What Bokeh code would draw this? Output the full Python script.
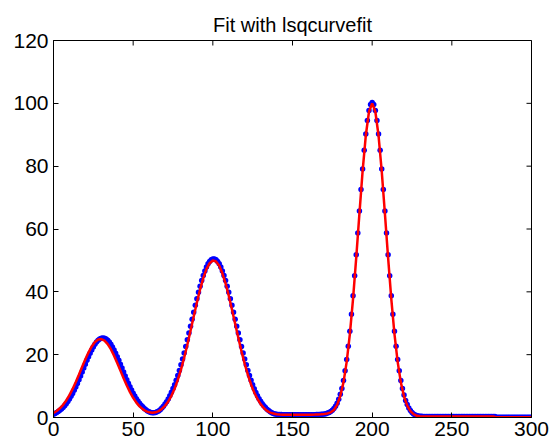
import math
from bokeh.plotting import figure
from bokeh.models import Range1d, FixedTicker
from bokeh.embed import file_html
from bokeh.resources import INLINE

# ---- data ----
x_ticks = [0, 50, 100, 150, 200, 250, 300]
y_ticks = [0, 20, 40, 60, 80, 100, 120]

x_data = list(range(0, 301))
y_data = [
    1.06, 1.29, 1.57, 1.90, 2.27, 2.71, 3.21, 3.77, 4.40, 5.11,
    5.89, 6.75, 7.67, 8.67, 9.74, 10.86, 12.03, 13.24, 14.48, 15.72,
    16.96, 18.19, 19.36, 20.48, 21.52, 22.46, 23.29, 24.00, 24.56, 24.97,
    25.22, 25.30, 25.22, 24.97, 24.56, 24.00, 23.29, 22.46, 21.52, 20.48,
    19.36, 18.19, 16.96, 15.72, 14.48, 13.24, 12.03, 10.89, 9.78, 8.72,
    7.73, 6.83, 5.99, 5.25, 4.57, 3.90, 3.40, 2.90, 2.50, 2.10,
    1.80, 1.60, 1.50, 1.50, 1.60, 1.80, 2.10, 2.50, 3.00, 3.60,
    4.30, 5.00, 5.90, 6.90, 8.00, 9.20, 10.44, 11.85, 13.37, 15.00,
    16.76, 18.61, 20.56, 22.60, 24.71, 26.88, 29.08, 31.29, 33.51, 35.69,
    37.81, 39.84, 41.77, 43.57, 45.20, 46.65, 47.88, 48.90, 49.68, 50.20,
    50.47, 50.47, 50.20, 49.68, 48.90, 47.88, 46.65, 45.20, 43.57, 41.77,
    39.84, 37.81, 35.69, 33.51, 31.29, 29.08, 26.88, 24.71, 22.60, 20.56,
    18.61, 16.76, 15.00, 13.37, 11.85, 10.44, 9.16, 7.99, 6.93, 5.98,
    5.14, 4.39, 3.73, 3.16, 2.66, 2.22, 1.85, 1.53, 1.30, 1.15,
    1.05, 0.98, 0.95, 0.92, 0.90, 0.90, 0.88, 0.90, 0.89, 0.90,
    0.90, 0.88, 0.90, 0.91, 0.90, 0.89, 0.90, 0.90, 0.88, 0.90,
    0.90, 0.91, 0.90, 0.89, 0.90, 0.92, 0.95, 0.98, 1.02, 1.06,
    1.12, 1.22, 1.40, 1.62, 1.92, 2.32, 2.85, 3.55, 4.50, 5.80,
    7.40, 9.24, 11.80, 14.87, 18.50, 22.70, 27.48, 32.85, 38.74, 45.11,
    51.81, 58.75, 65.72, 72.57, 79.08, 85.03, 90.24, 94.51, 97.68, 99.64,
    100.30, 99.64, 97.68, 94.51, 90.24, 85.03, 79.08, 72.57, 65.72, 58.75,
    51.81, 45.11, 38.74, 32.85, 27.48, 22.70, 18.50, 14.87, 11.80, 9.24,
    7.14, 5.45, 4.10, 3.05, 2.23, 1.62, 1.15, 0.81, 0.60, 0.46,
    0.40, 0.37, 0.35, 0.35, 0.35, 0.35, 0.35, 0.35, 0.35, 0.35,
    0.35, 0.35, 0.35, 0.35, 0.35, 0.35, 0.35, 0.35, 0.35, 0.35,
    0.35, 0.35, 0.35, 0.35, 0.35, 0.35, 0.35, 0.35, 0.35, 0.35,
    0.35, 0.35, 0.35, 0.35, 0.35, 0.35, 0.35, 0.35, 0.35, 0.35,
    0.35, 0.35, 0.35, 0.35, 0.35, 0.35, 0.35, 0.35, 0.05, 0.05,
    0.05, 0.05, 0.05, 0.05, 0.05, 0.05, 0.05, 0.05, 0.05, 0.05,
    0.05, 0.05, 0.05, 0.05, 0.05, 0.05, 0.05, 0.05, 0.05, 0.05,
    0.05,
]

x_fit = list(range(0, 301, 2))
y_fit = [
    1.41, 2.06, 2.92, 4.03, 5.43, 7.12, 9.09, 11.30, 13.69, 16.15,
    18.55, 20.76, 22.62, 24.01, 24.81, 24.98, 24.49, 23.38, 21.74, 19.69,
    17.37, 14.92, 12.48, 10.17, 8.09, 6.28, 4.75, 3.55, 2.65, 2.01,
    1.65, 1.52, 1.65, 2.04, 2.72, 3.72, 5.09, 6.90, 9.16, 11.96,
    15.24, 19.01, 23.16, 27.60, 32.15, 36.61, 40.76, 44.37, 47.22, 49.12,
    49.96, 49.68, 48.30, 45.90, 42.65, 38.74, 34.40, 29.87, 25.36, 21.04,
    17.07, 13.54, 10.50, 7.96, 5.90, 4.27, 3.03, 2.10, 1.55, 1.25,
    1.05, 0.95, 0.90, 0.90, 0.90, 0.90, 0.90, 0.90, 0.90, 0.90,
    0.90, 0.90, 0.92, 0.98, 1.05, 1.15, 1.30, 1.65, 2.40, 4.00,
    6.90, 11.18, 17.71, 26.57, 37.77, 50.86, 64.88, 78.40, 89.75, 97.33,
    100.00, 97.33, 89.75, 78.40, 64.88, 50.86, 37.77, 26.57, 17.71, 11.18,
    6.69, 3.79, 2.04, 1.04, 0.55, 0.40, 0.35, 0.35, 0.35, 0.35,
    0.35, 0.35, 0.35, 0.35, 0.35, 0.35, 0.35, 0.35, 0.35, 0.35,
    0.35, 0.35, 0.35, 0.35, 0.35, 0.35, 0.35, 0.35, 0.35, 0.05,
    0.05, 0.05, 0.05, 0.05, 0.05, 0.05, 0.05, 0.05, 0.05, 0.05,
    0.05,
]

FONT = "Liberation Sans"
X0, X1 = 0, 300
Y0, Y1 = 0, 120

p = figure(width=559, height=445,
           x_range=Range1d(X0, X1), y_range=Range1d(Y0, Y1),
           output_backend="svg", toolbar_location=None,
           title="Fit with lsqcurvefit")
p.min_border_left = 53
p.min_border_right = 28
p.min_border_top = 40
p.min_border_bottom = 28
p.background_fill_color = "white"
p.border_fill_color = "white"
p.outline_line_color = "black"
p.xgrid.visible = False
p.ygrid.visible = False

p.title.text_font = FONT
p.title.text_font_size = "20px"
p.title.text_font_style = "normal"
p.title.text_color = "black"
p.title.align = "center"
p.title.standoff = 10


def style_axis(ax, ticks):
    ax.ticker = FixedTicker(ticks=ticks)
    ax.major_tick_in = 5
    ax.major_tick_out = 0
    ax.minor_tick_line_color = None
    ax.axis_line_color = "black"
    ax.axis_line_width = 1
    ax.major_tick_line_color = "black"
    ax.major_label_text_font = FONT
    ax.major_label_text_color = "black"
    ax.major_label_text_font_size = "21px"


style_axis(p.xaxis[0], x_ticks)
p.xaxis[0].major_label_standoff = 4
style_axis(p.yaxis[0], y_ticks)
p.yaxis[0].major_label_standoff = 5

# inward ticks on the top and right edges of the box (half of each dash is clipped)
p.scatter([t for t in x_ticks], [Y1] * len(x_ticks), marker="dash", size=10,
          angle=math.pi / 2, line_color="black", line_width=1)
p.scatter([X1] * len(y_ticks), [t for t in y_ticks], marker="dash", size=10,
          line_color="black", line_width=1)

p.scatter(x_data, y_data, size=5.5, fill_color="#0000FF", line_color=None)
p.line(x_fit, y_fit, line_color="#FF0000", line_width=2.5)

open("out.html", "w").write(file_html(p, INLINE))
